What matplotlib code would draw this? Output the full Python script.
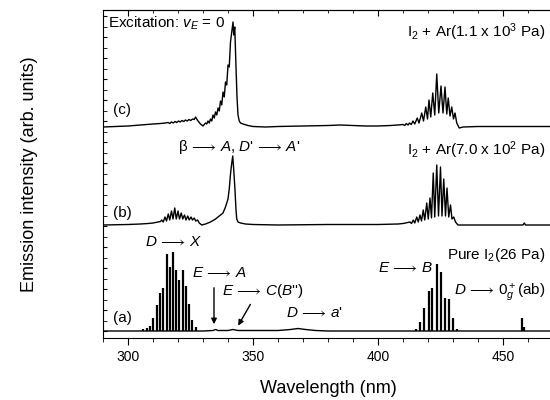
import numpy as np
import matplotlib
matplotlib.use("Agg")
import matplotlib.pyplot as plt
from matplotlib.ticker import MultipleLocator, NullFormatter

plt.rcParams['font.family'] = ['Liberation Sans', 'DejaVu Sans']
plt.rcParams['mathtext.fontset'] = 'custom'
plt.rcParams['mathtext.rm'] = 'Liberation Sans'
plt.rcParams['mathtext.it'] = 'Liberation Sans:italic'
plt.rcParams['mathtext.bf'] = 'Liberation Sans:bold'
plt.rcParams['mathtext.fallback'] = 'stixsans'

# trace offsets (arb. units)
offsets = {'a': 0, 'b': 106, 'c': 204}

# (c) I2 + Ar(1.1e3 Pa)
wl_c = [290, 295, 300, 305, 310, 313, 315, 316, 316.7, 317.4, 318.1, 318.8, 319.5, 320.2,
        320.9, 321.6, 322.3, 323, 323.7, 324.4, 325.1, 325.8, 326.5, 327, 327.5, 328, 329,
        330, 331, 331.5, 332, 332.5, 333, 333.5, 334, 334.5, 335, 335.5, 336, 336.5, 337,
        337.5, 338, 338.5, 339, 339.5, 340, 340.5, 341, 341.5, 342, 342.3, 342.7, 343.2,
        343.6, 344, 344.5, 345, 346, 348, 350, 355, 360, 370, 380, 385, 390, 395, 400, 405,
        408, 410, 410.7, 411.3, 412, 412.6, 413.3, 414, 414.7, 415.7, 416.4, 417.5, 418.2,
        419.1, 419.8, 420.4, 421.1, 421.9, 422.7, 423.5, 424.3, 425.2, 426, 426.8, 427.5,
        428.1, 428.8, 429.5, 430.2, 430.8, 431.5, 432.5, 434, 440, 450, 460, 470]
int_c = [0, 0.5, 1, 2, 3, 3.5, 4, 4.5, 3.5, 5, 4, 5.5, 4.5, 6,
         5, 6.5, 5.5, 7, 6, 7.5, 6.5, 8, 7.5, 10, 8, 6, 3,
         1, 4, 3, 6, 4, 8, 6, 12, 9, 15, 12, 19, 16, 26,
         22, 35, 30, 45, 42, 62, 60, 85, 95, 105, 92, 100, 60,
         30, 12, 6, 4, 3, 1.5, 0.5, 0, 0.5, 1, 1.5, 2, 1.5, 1, 1, 1.5,
         2, 2.5, 1.5, 3.5, 2, 4, 2.5, 6, 3, 9, 4, 14, 6,
         20, 8, 27, 10, 34, 12, 53, 14, 41, 14, 40, 13,
         29, 11, 20, 8, 14, 4, -1, 0, 0.5, 0.5, 0.5, 0.5]

# (b) I2 + Ar(7.0e2 Pa)
wl_b = [290, 300, 305, 308, 310, 312, 313, 313.5, 314.1, 314.8, 315.4, 316.1, 316.7, 317.4,
        318, 318.7, 319.3, 320, 320.6, 321.3, 321.9, 322.6, 323.2, 323.9, 324.5, 325.2,
        325.8, 326.5, 327.1, 327.8, 328.5, 329.5, 331, 333, 335, 337, 338, 339, 340, 340.5,
        341, 341.5, 341.9, 342.3, 342.8, 343.2, 343.5, 344, 345, 347, 350, 360, 380, 400,
        408, 410, 411, 412.8, 413.4, 414.1, 414.7, 415.5, 416.1, 416.8, 417.4, 418.1, 418.7,
        419.5, 420.1, 420.8, 421.4, 422.1, 422.7, 423.5, 424.2, 425, 425.6, 426.3, 427,
        427.6, 428.3, 429, 429.6, 430.3, 431, 432, 440, 458, 458.5, 459, 470]
int_b = [0, 0.5, 1, 1.5, 2, 3, 3.5, 5, 3, 8, 4, 11, 5, 14,
         6, 17, 6, 14, 6, 12, 6, 10, 5, 9, 5, 8,
         5, 7, 4, 5, 2, 0, 1, 3, 6, 10, 12, 18, 26, 36,
         51, 62, 69, 55, 35, 15, 6, 3, 2, 1, 0.5, 0, 0.5, 0.5,
         1, 1.5, 2, 3, 1.5, 5, 2, 8, 3, 10, 4, 15, 5,
         22, 6, 27, 7, 52, 8, 60, 9, 58, 9, 46, 9,
         37, 8, 20, 6, 8, 3, 0, 0, 0, 2, 0, 0]

# (a) pure I2(26 Pa): weak background + sharp lines
wl_a = [290, 330, 334, 335, 336, 340, 342, 344, 360, 365, 368, 371, 375, 380, 470]
int_a = [0, 0, 0.5, 1.5, 0.5, 0.5, 1.5, 0.5, 0.5, 1.5, 2.5, 1.5, 0.5, 0, 0]
dx_lines = [306.1, 307.5, 308.8, 310.1, 311.5, 312.8, 314.1, 315.5, 316.8, 317.9, 319.2,
            320.5, 321.9, 323.2, 324.4, 325.7, 327.1]
dx_height = [2, 3, 5, 13, 26, 38, 43, 77, 64, 79, 61, 51, 61, 45, 27, 11, 4]
eb_lines = [415.2, 416.8, 418.5, 420.3, 421.7, 423.5, 425.2, 426.8, 428.3, 429.9, 431.5]
eb_height = [2, 9, 23, 40, 43, 67, 59, 33, 32, 13, 2]
d0_lines = [457.6, 458.4]
d0_height = [13, 4]

fig = plt.figure(figsize=(5.5, 4), dpi=100)
ax = fig.add_axes([103 / 550, 62 / 400, 450 / 550, 328 / 400])

ax.plot(wl_c, np.array(int_c) + offsets['c'], color='k', lw=1.0)
ax.plot(wl_b, np.array(int_b) + offsets['b'], color='k', lw=1.0)
ax.plot(wl_a, np.array(int_a) + offsets['a'], color='k', lw=1.0)
for pos, h in zip([dx_lines, eb_lines, d0_lines], [dx_height, eb_height, d0_height]):
    ax.vlines(pos, offsets['a'], np.array(h) + offsets['a'], color='k', lw=1.6)

ax.set_xlim(290, 470)
ax.set_ylim(-7, 321)

ax.xaxis.set_major_locator(MultipleLocator(50))
ax.xaxis.set_minor_locator(MultipleLocator(10))
ax.yaxis.set_major_locator(MultipleLocator(21))
ax.yaxis.set_minor_locator(MultipleLocator(10.5))
ax.yaxis.set_major_formatter(NullFormatter())
ax.tick_params(axis='x', which='major', direction='out', length=5, labelsize=10, top=False)
ax.tick_params(axis='x', which='minor', direction='out', length=3, top=False)
ax.tick_params(axis='y', which='both', direction='in', length=3)
ax.spines['right'].set_visible(False)

# inward ticks on the top spine
top = ax.secondary_xaxis('top')
top.xaxis.set_major_locator(MultipleLocator(50))
top.xaxis.set_minor_locator(MultipleLocator(10))
top.xaxis.set_major_formatter(NullFormatter())
top.tick_params(which='major', direction='in', length=4)
top.tick_params(which='minor', direction='in', length=2)

ax.set_xlabel('Wavelength (nm)', fontsize=13, labelpad=12)
ax.set_ylabel('Emission intensity (arb. units)', fontsize=13, labelpad=43)

fs = 11
arr = r'$\,\longrightarrow\,$'
tr = ax.transAxes
ax.text(0.011, 0.96, r'Excitation: $v_E$ = 0', transform=tr, fontsize=fs, va='center')
ax.text(0.982, 0.933, r'I$_2$ + Ar(1.1 x 10$^3$ Pa)', transform=tr, fontsize=fs,
        va='center', ha='right')
ax.text(0.022, 0.695, '(c)', transform=tr, fontsize=fs, va='center')
ax.text(0.167, 0.582, 'β' + arr + '$A$, $D$\'' + arr + '$A$\'',
        transform=tr, fontsize=fs, va='center')
ax.text(0.982, 0.573, r'I$_2$ + Ar(7.0 x 10$^2$ Pa)', transform=tr, fontsize=fs,
        va='center', ha='right')
ax.text(0.022, 0.381, '(b)', transform=tr, fontsize=fs, va='center')
ax.text(0.093, 0.293, '$D$' + arr + '$X$', transform=tr, fontsize=fs, va='center')
ax.text(0.982, 0.253, r'Pure I$_2$(26 Pa)', transform=tr, fontsize=fs, va='center',
        ha='right')
ax.text(0.198, 0.198, '$E$' + arr + '$A$', transform=tr, fontsize=fs, va='center')
ax.text(0.264, 0.143, '$E$' + arr + "$C$($B$'')", transform=tr, fontsize=fs,
        va='center')
ax.text(0.407, 0.076, '$D$' + arr + "$a$'", transform=tr, fontsize=fs, va='center')
ax.text(0.612, 0.213, '$E$' + arr + '$B$', transform=tr, fontsize=fs, va='center')
ax.text(0.78, 0.14, '$D$' + arr + r'0$_g^+$(ab)', transform=tr, fontsize=fs,
        va='center')
ax.text(0.022, 0.061, '(a)', transform=tr, fontsize=fs, va='center')

ax.annotate('', xy=(334.4, 4), xytext=(334.4, 46),
            arrowprops=dict(arrowstyle='-|>', color='k', lw=1, mutation_scale=8))
ax.annotate('', xy=(343.5, 3), xytext=(349.5, 29),
            arrowprops=dict(arrowstyle='-|>', color='k', lw=1, mutation_scale=8))

fig.savefig('out.png', dpi=100)
